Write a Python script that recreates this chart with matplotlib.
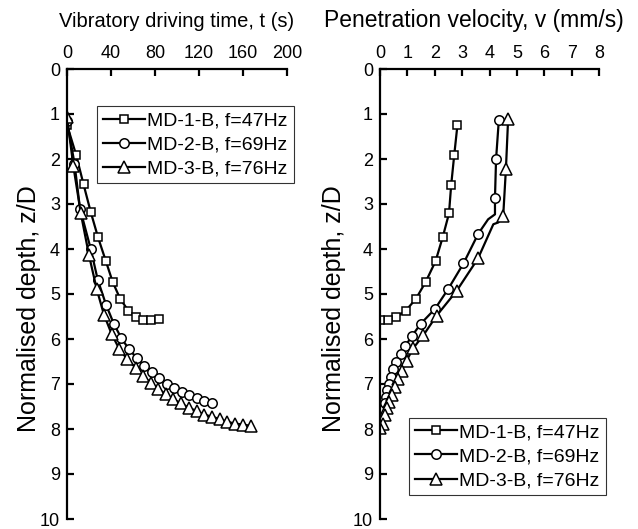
import numpy as np
import matplotlib
matplotlib.use("Agg")
import matplotlib.pyplot as plt

plt.rcParams['font.family'] = ['Liberation Sans', 'DejaVu Sans']
plt.rcParams['font.size'] = 13

# --- driving time vs depth ---
t1 = [0, 8.2, 15.0, 21.6, 28.2, 35.2, 41.5, 48.2, 55.7, 62.7, 69.4, 76.4, 83.3]
z1 = [1.24, 1.90, 2.56, 3.18, 3.74, 4.26, 4.73, 5.10, 5.37, 5.52, 5.57, 5.57, 5.56]

t2 = [0, 6.8, 11.8, 21.5, 27.9, 35.5, 42.7, 49.4, 56.4, 63.4, 70.3, 77.5, 83.9,
      90.6, 97.3, 104.3, 111.2, 117.9, 124.8, 132.1]
z2 = [1.15, 2.10, 3.10, 3.99, 4.68, 5.24, 5.67, 5.98, 6.23, 6.42, 6.59, 6.73, 6.86,
      6.99, 7.09, 7.17, 7.25, 7.32, 7.37, 7.43]

t3 = [0, 5.8, 12.5, 20.0, 27.0, 33.6, 40.6, 47.5, 54.8, 62.5, 68.8, 76.1, 83.0,
      90.0, 96.6, 103.6, 110.9, 117.9, 124.8, 132.1, 139.1, 145.7, 152.7, 159.7, 167.0]
z3 = [1.07, 2.16, 3.20, 4.14, 4.89, 5.46, 5.89, 6.22, 6.45, 6.64, 6.82, 6.97, 7.11,
      7.23, 7.34, 7.43, 7.53, 7.60, 7.68, 7.73, 7.78, 7.84, 7.88, 7.90, 7.93]

# --- penetration velocity vs depth ---
v1 = [2.83, 2.71, 2.60, 2.52, 2.29, 2.03, 1.67, 1.31, 0.94, 0.58, 0.30, 0.0]
zv1 = [1.24, 1.92, 2.58, 3.21, 3.74, 4.27, 4.73, 5.11, 5.37, 5.52, 5.57, 5.57]

v2 = [4.34, 4.24, 4.20, 4.20, 3.95, 3.59, 3.05, 2.49, 2.01, 1.49, 1.17, 0.93, 0.76,
      0.58, 0.49, 0.39, 0.33, 0.27, 0.22, 0.17]
zv2 = [1.14, 2.00, 2.86, 3.23, 3.34, 3.66, 4.32, 4.89, 5.33, 5.66, 5.93, 6.15, 6.33,
       6.51, 6.66, 6.84, 6.99, 7.14, 7.29, 7.43]
mk2 = [0, 1, 2, 5, 6, 7, 8, 9, 10, 11, 12, 13, 14, 15, 16, 17, 18, 19]

v3 = [4.68, 4.60, 4.50, 4.32, 4.14, 3.58, 2.80, 2.07, 1.58, 1.22, 0.97, 0.79, 0.67,
      0.55, 0.43, 0.34, 0.24, 0.18, 0.10, 0.0]
zv3 = [1.11, 2.22, 3.27, 3.41, 3.45, 4.21, 4.93, 5.48, 5.92, 6.20, 6.48, 6.70, 6.88,
       7.06, 7.25, 7.40, 7.54, 7.69, 7.88, 7.97]
mk3 = [0, 1, 2, 5, 6, 7, 8, 9, 10, 11, 12, 13, 14, 15, 16, 17, 18, 19]

labels = ["MD-1-B, f=47Hz", "MD-2-B, f=69Hz", "MD-3-B, f=76Hz"]
markers = ["s", "o", "^"]
msizes = [6.3, 6.8, 8.5]

fig = plt.figure(figsize=(6.38, 5.29), dpi=100)
ax1 = fig.add_axes([67 / 638, 1 - 519 / 529, 220 / 638, 450 / 529])
ax2 = fig.add_axes([380 / 638, 1 - 519 / 529, 219 / 638, 450 / 529])

style = dict(color="black", lw=1.6, mfc="white", mec="black", mew=1.1)

for x, y, lab, m, ms in zip([t1, t2, t3], [z1, z2, z3], labels, markers, msizes):
    ax1.plot(x, y, marker=m, ms=ms, label=lab, **style)

for x, y, lab, m, ms, me in zip([v1, v2, v3], [zv1, zv2, zv3], labels, markers, msizes,
                                [None, mk2, mk3]):
    ax2.plot(x, y, marker=m, ms=ms, markevery=me, label=lab, **style)


def setup(ax, xmax, xstep, xlabel, xlab_size, xlab_x, ylab_x):
    ax.set_xlim(0, xmax)
    ax.set_ylim(10, 0)
    ax.set_xticks(np.arange(0, xmax + 0.01, xstep))
    ax.set_yticks(range(0, 11))
    ax.xaxis.tick_top()
    ax.xaxis.set_label_position("top")
    ax.set_xlabel(xlabel, fontsize=xlab_size)
    ax.xaxis.set_label_coords(xlab_x, 1.093)
    ax.set_ylabel("Normalised depth, z/D", fontsize=18)
    ax.yaxis.set_label_coords(ylab_x, 0.467)
    for s in ["right", "bottom"]:
        ax.spines[s].set_visible(False)
    for s in ["left", "top"]:
        ax.spines[s].set_linewidth(1.6)
    ax.tick_params(direction="in", length=5, width=1.6, labelsize=13)
    ax.tick_params(axis="x", pad=5)
    ax.tick_params(axis="y", pad=5)
    ax.set_facecolor("none")


setup(ax1, 200, 40, "Vibratory driving time, t (s)", 14.5, 0.5, -0.12)
setup(ax2, 8, 1, "Penetration velocity, v (mm/s)", 16.5, 0.43, -0.155)

leg_kw = dict(borderaxespad=0, frameon=True, fancybox=False, edgecolor="black",
              handlelength=2.2, handletextpad=0.1, borderpad=0.3,
              labelspacing=0.33, fontsize=14)
leg1 = ax1.legend(loc="upper right", bbox_to_anchor=(1.03, 0.918), **leg_kw)
leg1.get_frame().set_linewidth(0.8)
leg2 = ax2.legend(loc="lower right", bbox_to_anchor=(1.03, 0.053), **leg_kw)
leg2.get_frame().set_linewidth(0.8)

fig.savefig("out.png", dpi=100)
